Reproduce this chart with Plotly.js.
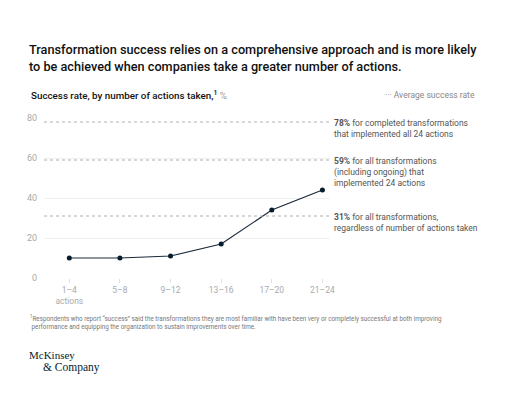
<!DOCTYPE html>
<html>
<head>
<meta charset="utf-8">
<script src="https://cdn.plot.ly/plotly-3.0.1.min.js"></script>
<style>html,body{margin:0;padding:0;background:#fff;}#chart{width:512px;height:393px;}</style>
</head>
<body>
<div id="chart"></div>
<script>
const categories = ["1–4<br>actions", "5–8", "9–12", "13–16", "17–20", "21–24"];
const successRate = [10, 10, 11, 17, 34, 44];
const yTicks = [0, 20, 40, 60, 80];
const benchmarkValues = [78, 59, 31];
const benchmarkBold = ["78%", "59%", "31%"];
const benchmarkTexts = [
  " for completed transformations<br>that implemented all 24 actions",
  " for all transformations<br>(including ongoing) that<br>implemented 24 actions",
  " for all transformations,<br>regardless of number of actions taken"
];

const FONT = "Roboto, 'Noto Sans', Arial, sans-serif";
const SERIF = "'Liberation Serif', 'DejaVu Serif', serif";
const xIdx = categories.map((_, i) => i);

const trace = {
  type: "scatter",
  mode: "lines+markers",
  x: xIdx,
  y: successRate,
  line: {color: "#1b2a3a", width: 1.2},
  marker: {color: "#051c2c", size: 5},
  cliponaxis: false,
  hoverinfo: "skip"
};

const shapes = benchmarkValues.map(v => ({
  type: "line", xref: "paper", x0: 0, x1: 1, yref: "y", y0: v, y1: v,
  line: {color: "#b0b0b0", width: 1, dash: "dot"}
}));

const annotations = benchmarkValues.map((v, i) => ({
  xref: "paper", x: 1, xshift: 2, xanchor: "left",
  yref: "y", y: v, yanchor: "top", yshift: 6,
  align: "left", showarrow: false,
  text: "<b>" + benchmarkBold[i] + "</b>" + benchmarkTexts[i],
  font: {family: FONT, size: 8.5, color: "#555"}
}));

annotations.push({
  xref: "paper", yref: "paper", x: -15/286, y: 1 + (118 - 95) / 160,
  xanchor: "left", yanchor: "middle", showarrow: false, align: "left",
  text: "Success rate, by number of actions taken,<sup>1</sup> <span style='color:#999;font-weight:400'>%</span>",
  font: {family: FONT, size: 9.8, color: "#111", weight: 500}
});
annotations.push({
  xref: "paper", yref: "paper", x: (477 - 44) / 286, y: 1 + (118 - 95) / 160,
  xanchor: "right", yanchor: "middle", showarrow: false,
  text: "··· Average success rate",
  font: {family: FONT, size: 8.5, color: "#888"}
});
annotations.push({
  xref: "paper", yref: "paper", x: -16/286, y: -(322 - 278) / 160,
  xanchor: "left", yanchor: "middle", showarrow: false, align: "left",
  text: "<sup>1</sup>Respondents who report “success” said the transformations they are most familiar with have been very or completely successful at both improving<br> performance and equipping the organization to sustain improvements over time.",
  font: {family: FONT, size: 6.3, color: "#777"}
});
annotations.push({
  xref: "paper", yref: "paper", x: -17/286, y: -(355 - 278) / 160,
  xanchor: "left", yanchor: "middle", showarrow: false,
  text: "McKinsey",
  font: {family: SERIF, size: 11, color: "#051c2c"}
});
annotations.push({
  xref: "paper", yref: "paper", x: -3/286, y: -(367.5 - 278) / 160,
  xanchor: "left", yanchor: "middle", showarrow: false,
  text: "&amp; Company",
  font: {family: SERIF, size: 11.5, color: "#051c2c"}
});

const layout = {
  width: 512, height: 393,
  margin: {l: 44, r: 182, t: 118, b: 115, pad: 0},
  paper_bgcolor: "#fff", plot_bgcolor: "#fff",
  font: {family: FONT},
  showlegend: false,
  title: {
    text: "Transformation success relies on a comprehensive approach and is more likely<br>to be achieved when companies take a greater number of actions.",
    x: 29/512, xanchor: "left", y: 1 - 54/393, yanchor: "top",
    font: {family: FONT, size: 12.7, color: "#111", weight: 500}
  },
  xaxis: {
    range: [-0.5, 5.15],
    tickvals: xIdx, ticktext: categories,
    showgrid: false, zeroline: false, showline: false,
    ticks: "outside", ticklen: 4, tickcolor: "#e0e0e0",
    tickfont: {family: FONT, size: 8.5, color: "#aaa"},
    fixedrange: true
  },
  yaxis: {
    range: [0, 80],
    tickvals: yTicks,
    showgrid: true, gridcolor: "#f0f0f0", gridwidth: 1,
    zeroline: false, showline: false,
    ticks: "", ticklabelstandoff: 6,
    tickfont: {family: FONT, size: 9, color: "#aaa"},
    fixedrange: true
  },
  shapes: shapes,
  annotations: annotations
};

Plotly.newPlot("chart", [trace], layout, {displayModeBar: false, staticPlot: true});
</script>
</body>
</html>
